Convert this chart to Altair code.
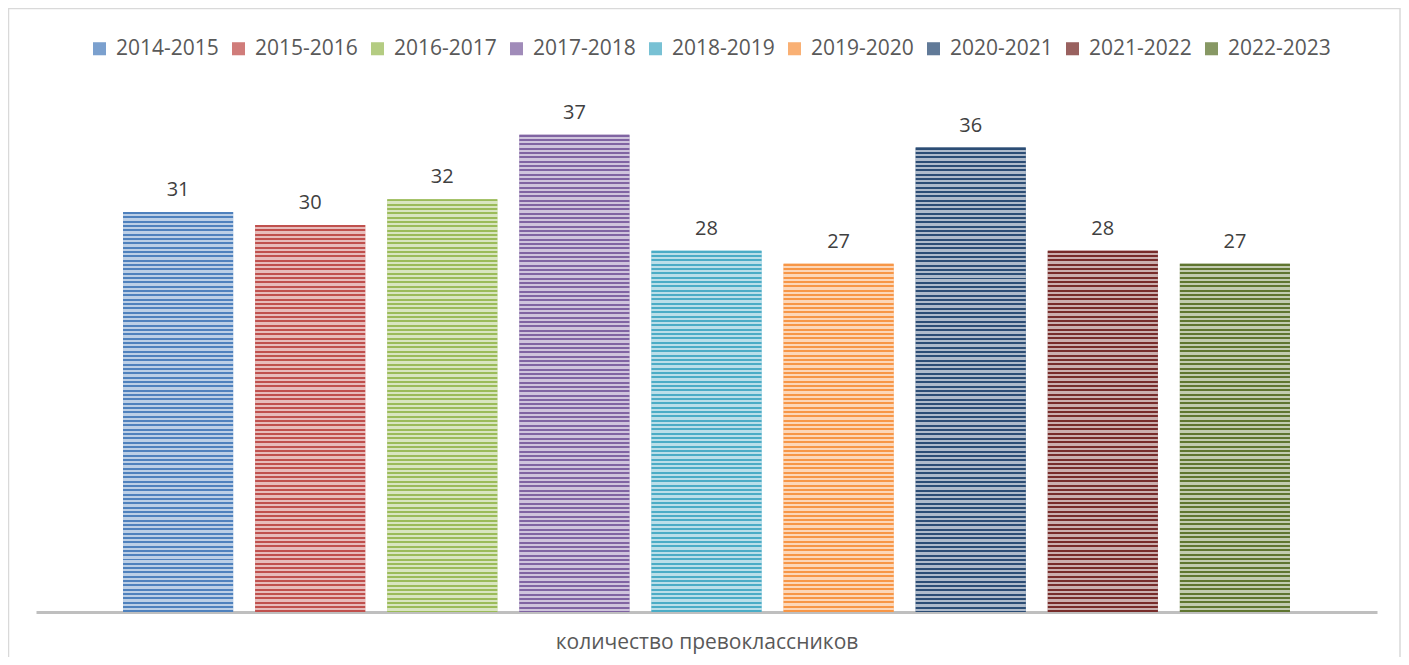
import altair as alt
import pandas as pd
import math

seasons = ["2014-2015", "2015-2016", "2016-2017", "2017-2018", "2018-2019",
           "2019-2020", "2020-2021", "2021-2022", "2022-2023"]
counts = [31, 30, 32, 37, 28, 27, 36, 28, 27]
base_colors = ["#4F81BD", "#C0504D", "#9BBB59", "#8064A2", "#4BACC6",
               "#F79646", "#2C4D75", "#772C2A", "#5F7530"]
x_title = "количество превоклассников"

W, H = 1341, 516
YMAX = 40
PERIOD = 4.33
DARK = 2.0
FONT = "Open Sans"


def blend(hexc, t):
    r, g, b = int(hexc[1:3], 16), int(hexc[3:5], 16), int(hexc[5:7], 16)
    r = round(r + (255 - r) * t)
    g = round(g + (255 - g) * t)
    b = round(b + (255 - b) * t)
    return "#{:02x}{:02x}{:02x}".format(r, g, b)


legend_colors = [blend(c, 0.25) for c in base_colors]

df = pd.DataFrame({"season": seasons, "count": counts})

x_enc = alt.X(
    "season:N", sort=seasons,
    scale=alt.Scale(paddingInner=1 / 6, paddingOuter=0.659),
    axis=alt.Axis(labels=False, ticks=False, title=x_title,
                  domainColor="#bfbfbf", domainWidth=3,
                  titleFont=FONT, titleFontSize=21, titleFontWeight="normal",
                  titleColor="#595959", titlePadding=19, grid=False),
)
y_enc = alt.Y("count:Q", scale=alt.Scale(domain=[0, YMAX]), axis=None)

base = alt.Chart(df).mark_bar().encode(
    x=x_enc, y=y_enc,
    color=alt.Color(
        "season:N", sort=seasons,
        scale=alt.Scale(domain=seasons, range=legend_colors),
        legend=alt.Legend(
            title=None, orient="none", direction="horizontal",
            legendX=53, legendY=-58, padding=0,
            symbolType="square", symbolSize=170, symbolStrokeWidth=0,
            labelFont=FONT, labelFontSize=21, labelColor="#595959",
            labelOffset=6, columnPadding=9, columns=9,
        ),
    ),
)

layers = [base]
for s, v, c in zip(seasons, counts, base_colors):
    h = v / YMAX * H
    light = blend(c, 0.62)
    stops = []
    n = math.ceil(h / PERIOD)
    for k in range(n):
        o0 = k * PERIOD / h
        o1 = min((k * PERIOD + DARK) / h, 1.0)
        o2 = min(((k + 1) * PERIOD) / h, 1.0)
        if o0 >= 1:
            break
        stops.append(alt.GradientStop(offset=o0, color=c))
        stops.append(alt.GradientStop(offset=o1, color=c))
        if o1 < 1:
            stops.append(alt.GradientStop(offset=o1, color=light))
            stops.append(alt.GradientStop(offset=o2, color=light))
    grad = alt.LinearGradient(gradient="linear", stops=stops,
                              x1=0, x2=0, y1=0, y2=1)
    layers.append(
        alt.Chart(df).transform_filter(alt.datum.season == s)
        .mark_bar(fill=grad).encode(x=x_enc, y=y_enc)
    )

labels = alt.Chart(df).mark_text(
    dy=-16, baseline="alphabetic", font=FONT, fontSize=20, color="#404040"
).encode(x=x_enc, y=y_enc, text="count:Q")
layers.append(labels)

border = alt.Chart(pd.DataFrame({"a": [0]})).mark_rect(
    fill="transparent", stroke="#d9d9d9", strokeWidth=1.5
).encode(x=alt.value(-27.5), x2=alt.value(1364), y=alt.value(-87.5), y2=alt.value(620))
layers.append(border)

chart = alt.layer(*layers).properties(
    width=W, height=H,
    autosize=alt.AutoSizeParams(type="none"),
    padding={"left": 28, "top": 88, "right": 24, "bottom": 45},
    background="white",
).configure_view(stroke=None)

chart.save("out.html", embed_options={"renderer": "svg", "actions": False})
